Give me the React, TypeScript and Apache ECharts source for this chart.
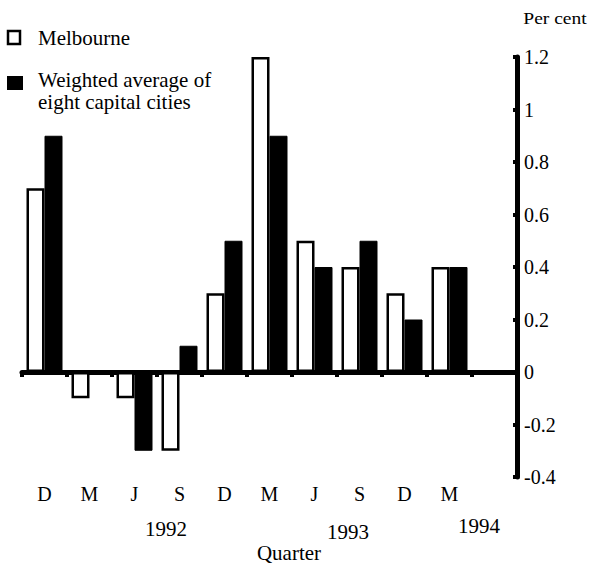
import React, { useEffect, useRef } from "react";
import * as echarts from "echarts";

const slots = ["D", "M", "J", "S", "D", "M", "J", "S", "D", "M", ""];
const melbourne = [0.7, -0.1, -0.1, -0.3, 0.3, 1.2, 0.5, 0.4, 0.3, 0.4];
const weighted = [0.9, 0, -0.3, 0.1, 0.5, 0.9, 0.4, 0.5, 0.2, 0.4];
const yearLabels = ["1992", "1993", "1994"];

const FONT = '"Liberation Serif", "Times New Roman", serif';

export default function App() {
  const ref = useRef<HTMLDivElement>(null);
  useEffect(() => {
    const chart = echarts.init(ref.current!, null, { renderer: "svg" });
    const yearPos = [
      { x: 166, y: 529 },
      { x: 348, y: 532 },
      { x: 479, y: 526 },
    ];
    chart.setOption({
      animation: false,
      backgroundColor: "#ffffff",
      textStyle: { fontFamily: FONT, color: "#000" },
      grid: [
        { left: 22, right: 72, top: 57, bottom: 90 },
        { left: 22, right: 72, top: 478, height: 4 },
      ],
      xAxis: [
        {
          type: "category",
          gridIndex: 0,
          data: slots,
          axisLine: { onZero: true, lineStyle: { color: "#000", width: 5 } },
          axisTick: { show: true, length: 5, lineStyle: { color: "#000", width: 4 } },
          axisLabel: { show: false },
          splitLine: { show: false },
        },
        {
          type: "category",
          gridIndex: 1,
          data: slots,
          axisLine: { show: false },
          axisTick: { show: false },
          axisLabel: { margin: 2, fontFamily: FONT, fontSize: 20, color: "#000" },
        },
      ],
      yAxis: [
        {
          type: "value",
          gridIndex: 0,
          position: "right",
          min: -0.4,
          max: 1.2,
          interval: 0.2,
          axisLine: { show: true, lineStyle: { color: "#000", width: 5 } },
          axisTick: { show: true, inside: true, length: 4, lineStyle: { color: "#000", width: 4 } },
          axisLabel: { margin: 7, fontFamily: FONT, fontSize: 20, color: "#000" },
          splitLine: { show: false },
        },
        { type: "value", gridIndex: 1, show: false },
      ],
      series: [
        {
          name: "Melbourne",
          type: "bar",
          xAxisIndex: 0,
          yAxisIndex: 0,
          data: melbourne,
          barWidth: 18,
          barGap: "0%",
          itemStyle: { color: "#fff", borderColor: "#000", borderWidth: 2.5 },
        },
        {
          name: "Weighted average of eight capital cities",
          type: "bar",
          xAxisIndex: 0,
          yAxisIndex: 0,
          data: weighted,
          barWidth: 18,
          barGap: "0%",
          itemStyle: { color: "#000", borderColor: "#000", borderWidth: 1 },
        },
      ],
      graphic: [
        {
          type: "rect",
          shape: { x: 8, y: 31, width: 12, height: 13 },
          style: { fill: "#fff", stroke: "#000", lineWidth: 2.5 },
        },
        {
          type: "text",
          x: 38,
          y: 38,
          scaleX: 1.05,
          style: { text: "Melbourne", font: `20px ${FONT}`, fill: "#000", verticalAlign: "middle" },
        },
        {
          type: "rect",
          shape: { x: 7, y: 76, width: 16, height: 14 },
          style: { fill: "#000" },
        },
        {
          type: "text",
          x: 38,
          y: 80,
          scaleX: 1.05,
          style: { text: "Weighted average of", font: `20px ${FONT}`, fill: "#000", verticalAlign: "middle" },
        },
        {
          type: "text",
          x: 38,
          y: 102,
          scaleX: 1.05,
          style: { text: "eight capital cities", font: `20px ${FONT}`, fill: "#000", verticalAlign: "middle" },
        },
        {
          type: "text",
          x: 555,
          y: 18,
          scaleX: 1.15,
          style: { text: "Per cent", font: `17px ${FONT}`, fill: "#000", align: "center", verticalAlign: "middle" },
        },
        ...yearLabels.map((t, i) => ({
          type: "text",
          x: yearPos[i].x,
          y: yearPos[i].y,
          scaleX: 1.05,
          style: { text: t, font: `20px ${FONT}`, fill: "#000", align: "center", verticalAlign: "middle" },
        })),
        {
          type: "text",
          x: 289,
          y: 553,
          scaleX: 1.05,
          style: { text: "Quarter", font: `20px ${FONT}`, fill: "#000", align: "center", verticalAlign: "middle" },
        },
      ],
    });
    return () => chart.dispose();
  }, []);
  return <div ref={ref} style={{ width: 589, height: 567, position: "absolute", left: 0, top: 0 }} />;
}
